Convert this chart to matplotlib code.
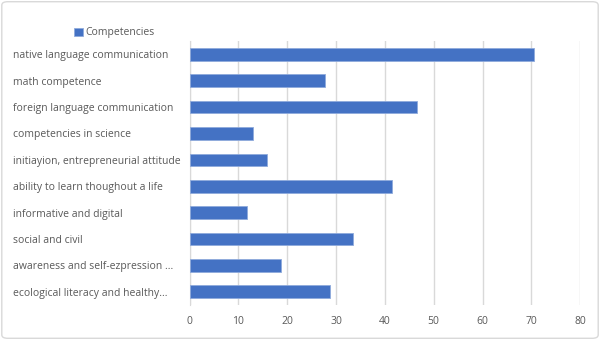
import matplotlib.pyplot as plt
from matplotlib.patches import FancyBboxPatch

categories = [
    "native language communication",
    "math competence",
    "foreign language communication",
    "competencies in science",
    "initiayion, entrepreneurial attitude",
    "ability to learn thoughout a life",
    "informative and digital",
    "social and civil",
    "awareness and self-ezpression ...",
    "ecological literacy and healthy...",
]
values = [70.5, 27.8, 46.5, 12.9, 15.8, 41.5, 11.7, 33.4, 18.7, 28.7]
xticks = [0, 10, 20, 30, 40, 50, 60, 70, 80]

plt.rcParams['font.family'] = ['Open Sans', 'DejaVu Sans']
txt = '#595959'
grid = '#d9d9d9'

fig = plt.figure(figsize=(6, 3.4), dpi=100)
ax = fig.add_axes([0.316, 0.103, 0.651, 0.776])

y = list(range(len(categories)))
ax.barh(y, values, height=0.48, color='#4472C4', edgecolor='#8faadc', linewidth=0.6,
        label='Competencies', zorder=3)
ax.set_ylim(len(categories) - 0.5, -0.5)
ax.set_xlim(0, 80)
ax.set_xticks(xticks)
ax.set_yticks(y)
ax.set_yticklabels(categories, ha='left')
# labels start ~13 px from the figure's left edge (pad in points)
ax.tick_params(axis='y', length=0, pad=(189.5 - 13) * 0.72, labelsize=7.5, labelcolor=txt)
ax.tick_params(axis='x', length=0, pad=8, labelsize=7.5, labelcolor=txt)
ax.grid(axis='x', color=grid, linewidth=1, zorder=0)
for s in ['top', 'right', 'bottom']:
    ax.spines[s].set_visible(False)
ax.spines['left'].set_color(grid)

leg = fig.legend(loc='upper left', bbox_to_anchor=(0.115, 0.935), frameon=False,
                 fontsize=7.5, handlelength=0.8, handleheight=0.8, handletextpad=0.3,
                 borderpad=0)
for t in leg.get_texts():
    t.set_color(txt)

fig.patches.append(FancyBboxPatch((0.003, 0.005), 0.994, 0.99, boxstyle='round,pad=0,rounding_size=0.01',
                                  transform=fig.transFigure, facecolor='none',
                                  edgecolor='#d9d9d9', linewidth=1))

fig.savefig('out.png', dpi=100)
